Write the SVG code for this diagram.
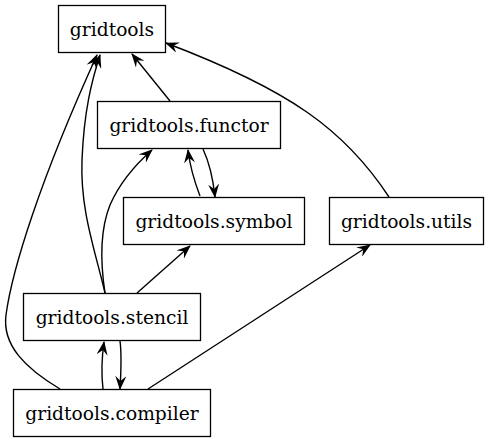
<svg xmlns="http://www.w3.org/2000/svg" width="489" height="443" viewBox="0 0 489 443">
<style>
.n rect{fill:#fff;stroke:#000;stroke-width:1.3}
.n text{font-family:"DejaVu Serif",serif;font-size:18.67px;text-anchor:middle;fill:#000}
.e path{fill:none;stroke:#000;stroke-width:1.4;marker-end:url(#a)}
</style>
<defs>
<marker id="a" viewBox="0 0 14 11" refX="13" refY="5.5" markerWidth="14" markerHeight="11" markerUnits="userSpaceOnUse" orient="auto">
<path d="M0,0 L14,5.5 L0,11 L5,5.5 Z" fill="#000"/>
</marker>
</defs>
<rect width="489" height="443" fill="#fff"/>
<g class="e">
<path d="M170,101 L132,54"/>
<path d="M389,197 C345,130 290,90 166,43"/>
<path d="M105,293 C95,250 80,210 82,160 C84,110 92,80 100,55"/>
<path d="M60,389 C25,368 2,345 6,315 C12,270 40,180 97,55"/>
<path d="M105,293 C100,260 100,230 110,205 C120,182 135,165 152,150"/>
<path d="M203,149 C209,162 213,178 215,197"/>
<path d="M200,196 C195,183 190,167 188,150"/>
<path d="M137,293 L190,246"/>
<path d="M120,341 C122,356 121,372 120,389"/>
<path d="M103,389 C101,372 102,356 104,342"/>
<path d="M148,389 L370,245"/>
</g>
<g class="n" id="gridtools"><rect x="58.5" y="5.5" width="107" height="47"/><text x="112" y="35.5">gridtools</text></g>
<g class="n" id="functor"><rect x="97.5" y="101.5" width="183" height="47"/><text x="189" y="131.5">gridtools.functor</text></g>
<g class="n" id="symbol"><rect x="123.5" y="197.5" width="181" height="47"/><text x="214" y="227.5">gridtools.symbol</text></g>
<g class="n" id="utils"><rect x="329.5" y="197.5" width="154" height="47"/><text x="406.5" y="227.5">gridtools.utils</text></g>
<g class="n" id="stencil"><rect x="23.5" y="293.5" width="177" height="47"/><text x="112" y="323.5">gridtools.stencil</text></g>
<g class="n" id="compiler"><rect x="13.5" y="389.5" width="197" height="47"/><text x="112" y="419.5">gridtools.compiler</text></g>
</svg>
